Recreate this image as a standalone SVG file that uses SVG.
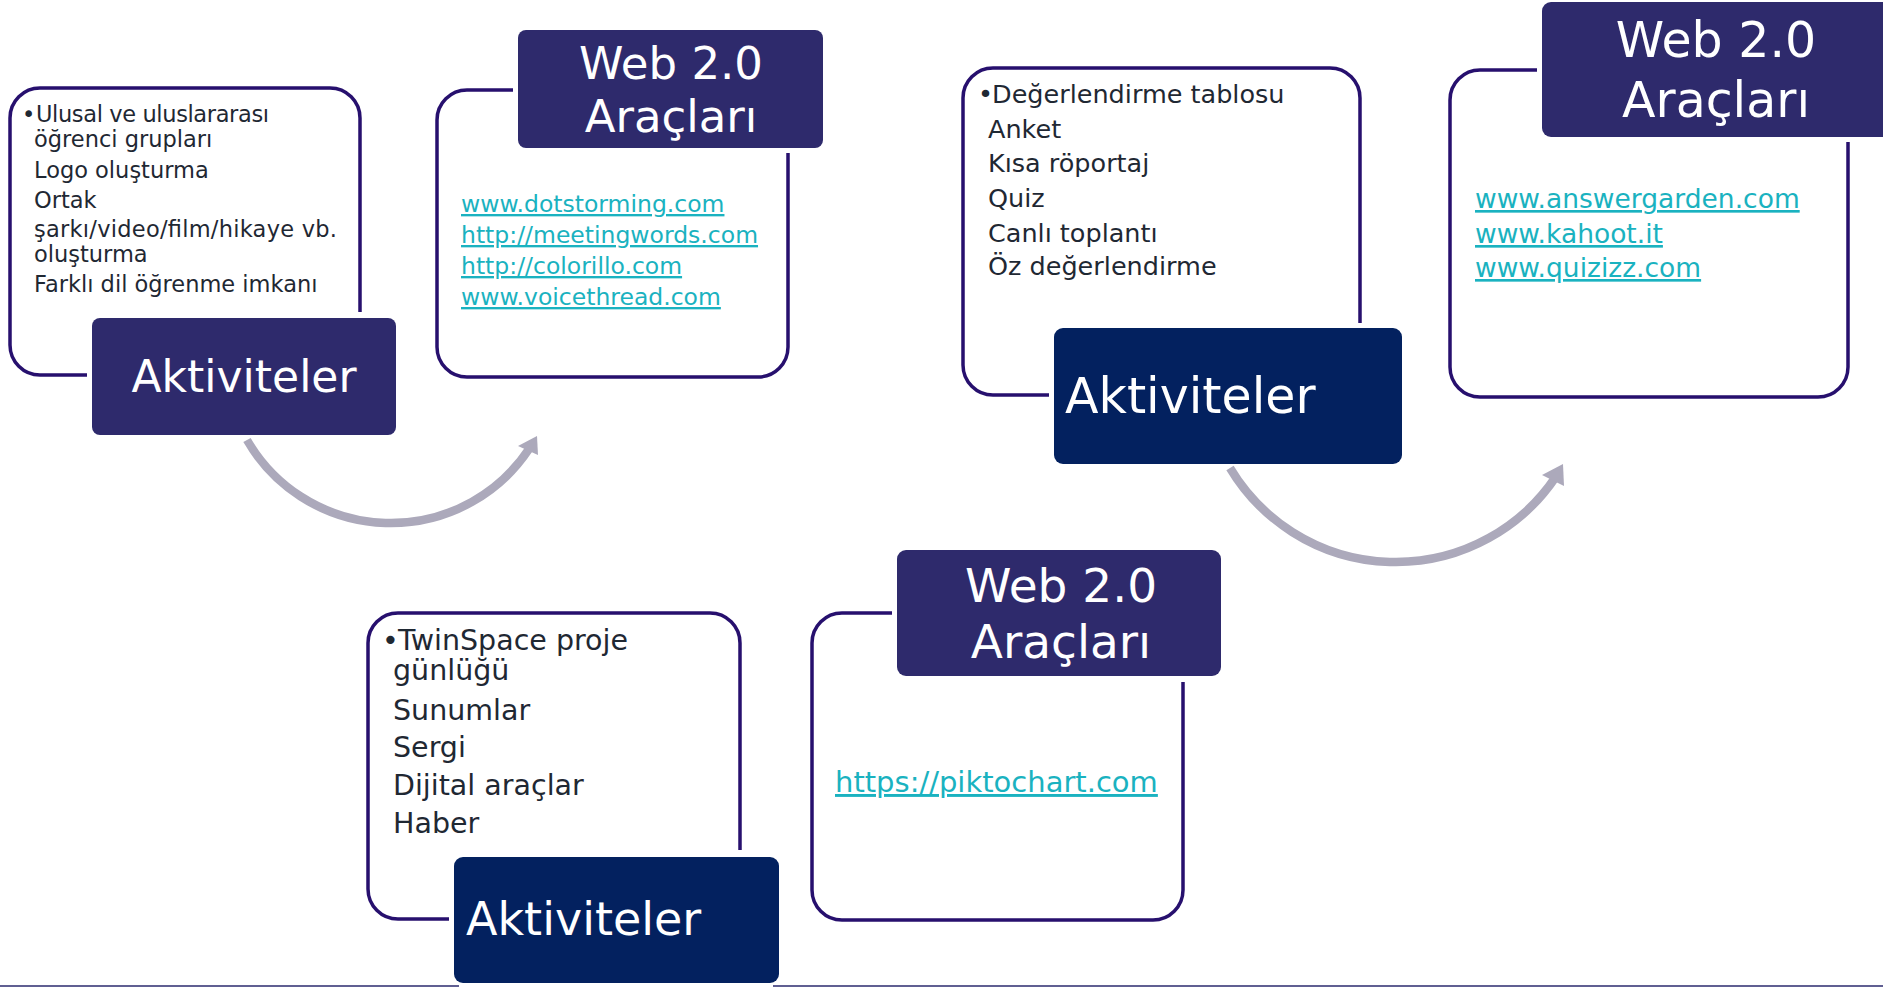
<svg xmlns="http://www.w3.org/2000/svg" width="1883" height="987" viewBox="0 0 1883 987">
<style>
.frame{fill:none;stroke:#27106e;stroke-width:3.5;stroke-linecap:butt}
.hdr{fill:#2e2a6c}
.akt{fill:#03215f}
.ht{fill:#ffffff;font-family:"DejaVu Sans",sans-serif}
.body{fill:#1f2833;font-family:"DejaVu Sans",sans-serif}
.url{fill:#1ab2c0;font-family:"DejaVu Sans",sans-serif;text-decoration:underline}
.arc{fill:none;stroke:#aca9bb;stroke-width:8.5}
.head{fill:#aca9bb}
</style>
<rect width="1883" height="987" fill="#ffffff"/>
<g id="connectors">
<path class="arc" d="M 247 440 A 166 166 0 0 0 529 449"/>
<polygon class="head" points="537,436 518,446 538,455"/>
<path class="arc" d="M 1230 468 A 193 193 0 0 0 1555 478"/>
<polygon class="head" points="1563,464 1542,475 1564,486"/>
</g>
<g id="activities1">
<path class="frame" d="M 360 312 L 360 118 A 30 30 0 0 0 330 88 L 40 88 A 30 30 0 0 0 10 118 L 10 345 A 30 30 0 0 0 40 375 L 87 375"/>
<g class="body" font-size="22.5">
<text x="22" y="122">•</text>
<text x="36" y="122" textLength="233">Ulusal ve uluslararası</text>
<text x="34" y="147">öğrenci grupları</text>
<text x="34" y="178">Logo oluşturma</text>
<text x="34" y="208">Ortak</text>
<text x="34" y="237" textLength="303">şarkı/video/film/hikaye vb.</text>
<text x="34" y="262">oluşturma</text>
<text x="34" y="292">Farklı dil öğrenme imkanı</text>
</g>
<rect class="hdr" x="92" y="318" width="304" height="117" rx="8"/>
<text class="ht" x="244" y="392" font-size="44" text-anchor="middle">Aktiviteler</text>
</g>
<g id="tools1">
<path class="frame" d="M 513 90 L 467 90 A 30 30 0 0 0 437 120 L 437 347 A 30 30 0 0 0 467 377 L 758 377 A 30 30 0 0 0 788 347 L 788 153"/>
<rect class="hdr" x="518" y="30" width="305" height="118" rx="8"/>
<text class="ht" x="671" y="79" font-size="45" text-anchor="middle">Web 2.0</text>
<text class="ht" x="671" y="132" font-size="45" text-anchor="middle">Araçları</text>
<g class="url" font-size="23.5">
<text x="461" y="212">www.dotstorming.com</text>
<text x="461" y="243">http://meetingwords.com</text>
<text x="461" y="274">http://colorillo.com</text>
<text x="461" y="305">www.voicethread.com</text>
</g>
</g>
<g id="activities2">
<path class="frame" d="M 1360 323 L 1360 98 A 30 30 0 0 0 1330 68 L 993 68 A 30 30 0 0 0 963 98 L 963 365 A 30 30 0 0 0 993 395 L 1049 395"/>
<g class="body" font-size="25.5">
<text x="978" y="103">•</text>
<text x="992" y="103">Değerlendirme tablosu</text>
<text x="988" y="138">Anket</text>
<text x="988" y="172">Kısa röportaj</text>
<text x="988" y="207">Quiz</text>
<text x="988" y="242">Canlı toplantı</text>
<text x="988" y="275">Öz değerlendirme</text>
</g>
<rect class="akt" x="1054" y="328" width="348" height="136" rx="9"/>
<text class="ht" x="1065" y="413" font-size="49">Aktiviteler</text>
</g>
<g id="tools2">
<path class="frame" d="M 1537 70 L 1480 70 A 30 30 0 0 0 1450 100 L 1450 367 A 30 30 0 0 0 1480 397 L 1818 397 A 30 30 0 0 0 1848 367 L 1848 142"/>
<rect class="hdr" x="1542" y="2" width="350" height="135" rx="9"/>
<text class="ht" x="1716" y="57" font-size="49" text-anchor="middle">Web 2.0</text>
<text class="ht" x="1716" y="117" font-size="49" text-anchor="middle">Araçları</text>
<g class="url" font-size="26.5">
<text x="1475" y="208">www.answergarden.com</text>
<text x="1475" y="243">www.kahoot.it</text>
<text x="1475" y="277">www.quizizz.com</text>
</g>
</g>
<g id="activities3">
<path class="frame" d="M 740 850 L 740 643 A 30 30 0 0 0 710 613 L 398 613 A 30 30 0 0 0 368 643 L 368 889 A 30 30 0 0 0 398 919 L 449 919"/>
<g class="body" font-size="28.5">
<text x="382" y="650">•</text>
<text x="398" y="650">TwinSpace proje</text>
<text x="393" y="680">günlüğü</text>
<text x="393" y="720">Sunumlar</text>
<text x="393" y="757">Sergi</text>
<text x="393" y="795">Dijital araçlar</text>
<text x="393" y="833">Haber</text>
</g>
<rect class="akt" x="454" y="857" width="325" height="126" rx="9"/>
<text class="ht" x="466" y="935" font-size="46">Aktiviteler</text>
</g>
<g id="tools3">
<path class="frame" d="M 892 613 L 842 613 A 30 30 0 0 0 812 643 L 812 890 A 30 30 0 0 0 842 920 L 1153 920 A 30 30 0 0 0 1183 890 L 1183 682"/>
<rect class="hdr" x="897" y="550" width="324" height="126" rx="9"/>
<text class="ht" x="1061" y="602" font-size="47" text-anchor="middle">Web 2.0</text>
<text class="ht" x="1061" y="658" font-size="47" text-anchor="middle">Araçları</text>
<text class="url" x="835" y="792" font-size="29">https://piktochart.com</text>
</g>
<g id="baseline">
<line x1="0" y1="986" x2="459" y2="986" stroke="#2b2a6e" stroke-width="1.5"/>
<line x1="773" y1="986" x2="1883" y2="986" stroke="#2b2a6e" stroke-width="1.5"/>
</g>
</svg>
